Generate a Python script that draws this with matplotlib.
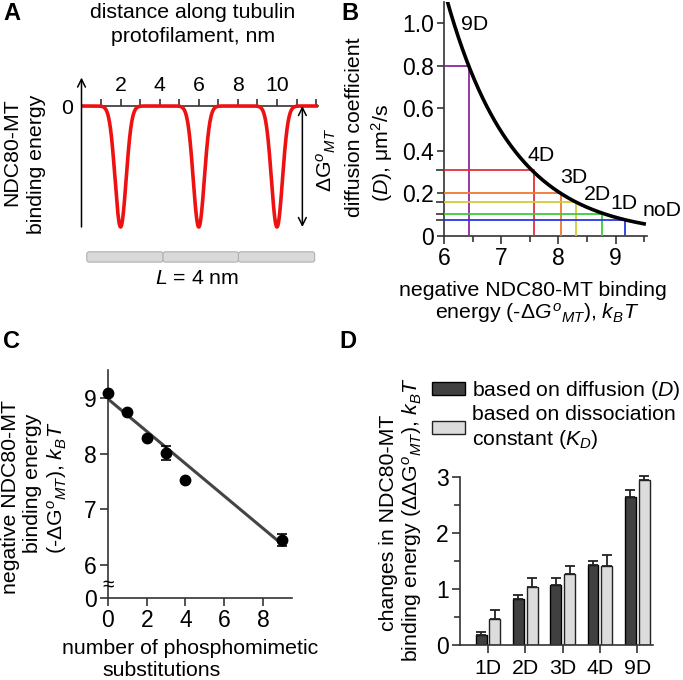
import numpy as np
import matplotlib
matplotlib.use('Agg')
import matplotlib.pyplot as plt
from matplotlib.patches import FancyBboxPatch

plt.rcParams['font.family'] = ['Liberation Sans', 'DejaVu Sans']
plt.rcParams['mathtext.fontset'] = 'custom'
plt.rcParams['mathtext.rm'] = 'Liberation Sans'
plt.rcParams['mathtext.it'] = 'Liberation Sans:italic'
plt.rcParams['mathtext.bf'] = 'Liberation Sans:bold'

# ---------------- data ----------------
# Panel A: binding-energy profile along protofilament
a_well_centers = [2, 6, 10]
a_well_depth = 1.0
a_well_width = 0.40
a_xticks_labeled = [2, 4, 6, 8, 10]
a_xticks_all = [1, 2, 3, 4, 5, 6, 7, 8, 9, 10, 11, 12]

# Panel B: diffusion coefficient vs binding energy
b_curve_D6 = 1.16      # D at -dG = 6 kBT
b_curve_k = 0.86       # decay per kBT
b_energy = [6.43, 7.57, 8.05, 8.31, 8.77, 9.16]
b_D = [0.80, 0.31, 0.20, 0.16, 0.105, 0.075]
b_line_colors = ['#8B2A9A', '#E0303A', '#F07830', '#D4CC3A', '#3CCB3C', '#2838E0']
b_labels = ['9D', '4D', '3D', '2D', '1D', 'noD']
b_label_x = [6.54, 7.70, 8.27, 8.69, 9.14, 9.81]
b_label_y = [0.995, 0.38, 0.275, 0.195, 0.155, 0.118]

# Panel C: energy vs number of phosphomimetic substitutions
c_n = [0, 1, 2, 3, 4, 9]
c_energy = [9.09, 8.75, 8.28, 8.01, 7.53, 6.45]
c_err = [0.0, 0.0, 0.0, 0.12, 0.0, 0.10]
c_fit_n = [0, 9]
c_fit_energy = [8.98, 6.37]
c_break_value = 5.41   # where "0" sits on the broken axis

# Panel D: changes in binding energy
d_cats = ['1D', '2D', '3D', '4D', '9D']
d_diff = [0.17, 0.82, 1.07, 1.43, 2.64]
d_diff_err = [0.06, 0.07, 0.13, 0.07, 0.12]
d_kd = [0.46, 1.04, 1.26, 1.41, 2.94]
d_kd_err = [0.17, 0.15, 0.15, 0.19, 0.08]

# ---------------- figure ----------------
W, H = 683, 680
fig = plt.figure(figsize=(W / 100, H / 100), dpi=100)
FS = 15.3
TFS = 16.5
AX_C = '#333333'
AX_LW = 1.2


def ax_px(x0, y0, x1, y1):
    return fig.add_axes([x0 / W, 1 - y1 / H, (x1 - x0) / W, (y1 - y0) / H])


def txt(x, y, s, **kw):
    kw.setdefault('ha', 'center')
    kw.setdefault('va', 'center')
    kw.setdefault('fontsize', FS)
    return fig.text(x / W, 1 - y / H, s, **kw)


def style_axes(ax):
    for s in ['left', 'bottom']:
        ax.spines[s].set_color(AX_C)
        ax.spines[s].set_linewidth(AX_LW)
    for s in ['top', 'right']:
        ax.spines[s].set_visible(False)
    ax.tick_params(which='both', color=AX_C, width=AX_LW, direction='out')
    ax.tick_params(which='major', length=5, labelsize=TFS, pad=2)
    ax.tick_params(which='minor', length=4)
    ax.patch.set_alpha(0)


# ================= Panel A =================
axA = ax_px(81.5, 80, 318, 227)
axA.set_xlim(0, 12.1)
axA.set_ylim(-1.0, 0.215)
for s in ['left', 'bottom', 'right']:
    axA.spines[s].set_visible(False)
axA.spines['top'].set_position(('data', 0))
axA.spines['top'].set_color(AX_C)
axA.spines['top'].set_linewidth(AX_LW)
axA.xaxis.set_ticks_position('top')
axA.set_xticks(a_xticks_all)
axA.set_xticklabels([str(t) if t in a_xticks_labeled else '' for t in a_xticks_all])
axA.tick_params(axis='x', direction='out', length=5, width=AX_LW, color=AX_C,
                labelsize=FS, pad=3)
axA.set_yticks([0])
axA.set_yticklabels(['0'])
axA.tick_params(axis='y', length=0, labelsize=FS, pad=6)
axA.patch.set_alpha(0)
xA = np.linspace(0, 12.1, 3000)
yA = np.zeros_like(xA)
for c in a_well_centers:
    yA -= a_well_depth * np.exp(-((xA - c) / a_well_width) ** 2)
axA.plot(xA, yA, color='#EE1111', lw=2.6, solid_capstyle='butt', zorder=3, clip_on=False)
axA.annotate('', xy=(0, 0.235), xytext=(0, -1.0),
             arrowprops=dict(arrowstyle='->', lw=1.1, color='black',
                             mutation_scale=14, shrinkA=0, shrinkB=0),
             annotation_clip=False)
axA.annotate('', xy=(11.3, -1.0), xytext=(11.3, 0),
             arrowprops=dict(arrowstyle='<->', lw=1.1, color='black',
                             mutation_scale=14, shrinkA=0, shrinkB=0),
             annotation_clip=False)
# tubulin monomers
for x0, x1 in [(0.27, 4.17), (4.17, 8.03), (8.03, 11.93)]:
    p = FancyBboxPatch((x0, -1.29), x1 - x0, 0.085,
                       boxstyle='round,pad=0,rounding_size=0.12',
                       mutation_aspect=0.16,
                       fc='#D9D9D9', ec='#B0B0B0', lw=0.8, clip_on=False)
    axA.add_patch(p)

txt(12, 13, 'A', fontsize=17, fontweight='bold')
txt(193, 13, 'distance along tubulin')
txt(193, 37, 'protofilament, nm')
txt(12, 152, 'NDC80-MT', rotation=90)
txt(36, 164, 'binding energy', rotation=90)
txt(326, 160, r'$\mathit{\Delta}$G$^{o}{}_{\mathit{MT}}$', rotation=90)
txt(197, 278, r'$\mathit{L}$ = 4 nm')

# ================= Panel B =================
axB = ax_px(444, 2, 647, 236)
style_axes(axB)
axB.set_xlim(6, 9.55)
axB.set_ylim(0, 1.1)
axB.set_xticks([6, 7, 8, 9])
axB.set_xticks([6.5, 7.5, 8.5, 9.5], minor=True)
axB.set_yticks([0, 0.2, 0.4, 0.6, 0.8, 1.0])
axB.set_yticklabels(['0', '0.2', '0.4', '0.6', '0.8', '1.0'])
axB.set_yticks(b_D, minor=True)
axB.tick_params(axis='y', which='minor', length=6)
axB.tick_params(axis='x', which='major', length=6)
axB.spines['left'].set_bounds(0, 1.1)
xB = np.linspace(6, 9.5, 400)
yB = b_curve_D6 * np.exp(-b_curve_k * (xB - 6))
axB.plot(xB, yB, color='black', lw=2.6, zorder=4, clip_on=True)
for e, d, col in zip(b_energy, b_D, b_line_colors):
    axB.plot([6, e, e], [d, d, 0], color=col, lw=1.3, zorder=3)
for lx, ly, lab in zip(b_label_x, b_label_y, b_labels):
    axB.text(lx, ly, lab, fontsize=FS, ha='center', va='center', clip_on=False)

txt(350, 13, 'B', fontsize=17, fontweight='bold')
txt(355, 127, 'diffusion coefficient', rotation=90)
txt(382, 153, r'($\mathit{D}$), μm$^{2}$/s', rotation=90)
txt(533, 290, 'negative NDC80-MT binding')
txt(537, 313, r'energy (-$\mathit{\Delta G^{o}{}_{MT}}$), $\mathit{k_{B}T}$')

# ================= Panel C =================
axC = ax_px(108, 370, 292, 598)
style_axes(axC)
axC.set_xlim(0, 9.5)
axC.set_ylim(c_break_value, 9.5)
axC.set_xticks([0, 2, 4, 6, 8])
axC.set_yticks([c_break_value, 6, 7, 8, 9])
axC.set_yticklabels(['0', '6', '7', '8', '9'])
axC.tick_params(axis='y', length=6)
axC.tick_params(axis='x', length=6)
axC.plot(c_fit_n, c_fit_energy, color='#444444', lw=2.2, zorder=2)
axC.errorbar(c_n, c_energy, yerr=c_err, fmt='o', color='black', ms=7.5,
             capsize=3.5, elinewidth=1.2, capthick=1.2, zorder=3, clip_on=False)
axC.text(0, 5.64, '≈', fontsize=15, ha='center', va='center', rotation=0,
         clip_on=False, zorder=5)

txt(12, 341, 'C', fontsize=17, fontweight='bold')
txt(11, 497, 'negative NDC80-MT', rotation=90)
txt(33, 483, 'binding energy', rotation=90)
txt(57, 488, r'(-$\mathit{\Delta}$G$^{o}{}_{\mathit{MT}}$), $\mathit{k_{B}T}$', rotation=90)
txt(190, 648, 'number of phosphomimetic')
txt(162, 671, 'substitutions')

# ================= Panel D =================
axD = ax_px(460, 477, 653, 645)
style_axes(axD)
xD = np.arange(len(d_cats))
axD.set_xlim(-0.75, 4.42)
axD.set_ylim(0, 3)
off = 0.185
bw = 0.29
axD.bar(xD - off, d_diff, bw, color='#404040', edgecolor='black', lw=1.0,
        label=r'based on diffusion ($\mathit{D}$)', zorder=2)
axD.bar(xD + off, d_kd, bw, color='#DCDCDC', edgecolor='#222222', lw=1.0,
        label='based on dissociation\nconstant ($\\mathit{K_{D}}$)', zorder=2)
axD.errorbar(xD - off, d_diff, yerr=[np.zeros(5), d_diff_err], fmt='none',
             ecolor='#222222', elinewidth=1.3, capsize=3.5, capthick=1.3,
             zorder=3, clip_on=False)
axD.errorbar(xD + off, d_kd, yerr=[np.zeros(5), d_kd_err], fmt='none',
             ecolor='#222222', elinewidth=1.3, capsize=3.5, capthick=1.3,
             zorder=3, clip_on=False)
axD.set_xticks(xD)
axD.set_xticklabels(d_cats)
axD.set_yticks([0, 1, 2, 3])
axD.set_yticks([0.5, 1.5, 2.5], minor=True)
axD.tick_params(axis='x', length=6, labelsize=FS, pad=4)
axD.tick_params(axis='y', length=6, labelsize=TFS)
leg = axD.legend(loc='upper left', bbox_to_anchor=(432 / W, 1 - 379 / H),
                 bbox_transform=fig.transFigure, frameon=False, fontsize=FS,
                 handlelength=1.55, handleheight=0.55, handletextpad=0.35,
                 labelspacing=0.15, borderpad=0, borderaxespad=0)

txt(348, 341, 'D', fontsize=17, fontweight='bold')
txt(388, 523, 'changes in NDC80-MT', rotation=90)
txt(412, 520, r'binding energy ($\mathit{\Delta\Delta}$G$^{o}{}_{\mathit{MT}}$), $\mathit{k_{B}T}$',
    rotation=90)

fig.savefig('out.png', dpi=100)
